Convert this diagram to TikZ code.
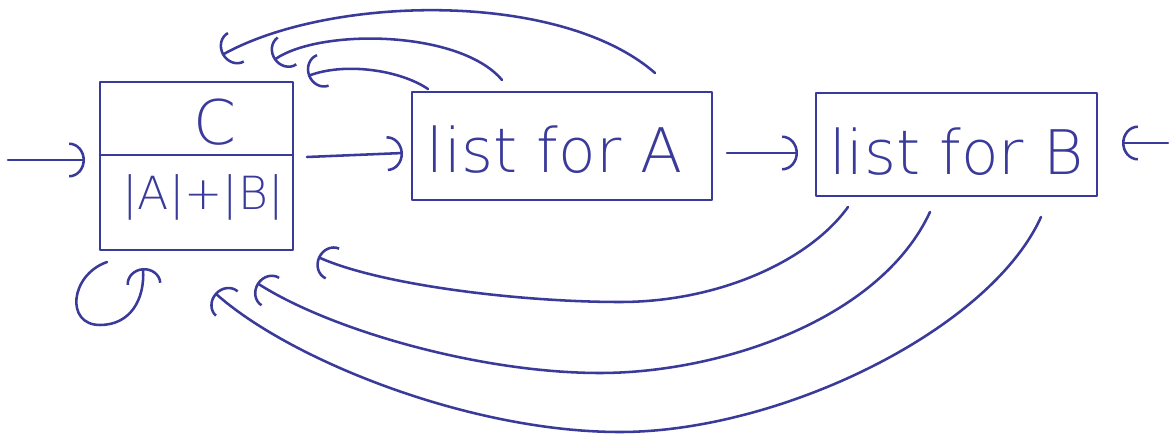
\documentclass[tikz,border=0pt]{standalone}
\usepackage{fontspec}
\newfontfamily\hand{DejaVu Sans ExtraLight}
\usetikzlibrary{arrows.meta}
\definecolor{ink}{RGB}{58,58,155}
\begin{document}
\begin{tikzpicture}[x=0.02cm,y=-0.02cm, line width=1.45pt, line cap=round, line join=round, draw=ink,
  box/.style={draw=ink, rectangle, inner sep=0pt},
  lbl/.style={font=\hand\fontsize{35}{40}\selectfont, text=ink, inner sep=0pt},
  small/.style={font=\hand\fontsize{26}{30}\selectfont, text=ink, inner sep=0pt},
  arr/.style={-{Arc Barb[length=9pt,width=20pt]}},
]
\useasboundingbox (0,0) rectangle (1171,439);
% boxes
\node[box, minimum width=3.86cm, minimum height=3.36cm] (cbox) at (196.5,166) {};
\node[box, minimum width=6cm, minimum height=2.16cm] (boxA) at (562,146) {};
\node[box, minimum width=5.62cm, minimum height=2.06cm] (boxB) at (956.5,144.5) {};
\coordinate (divL) at (100,155);
\coordinate (divR) at (293,155);
\draw (divL) -- (divR);
% texts
\node[lbl] (ctext) at (215,122) {C};
\node[small] (ab) at (203,197) {|A|+|B|};
\node[lbl] (atext) at (555,150) {list for A};
\node[lbl] (btext) at (957,152) {list for B};
% straight arrows
\coordinate (inL) at (8,160);
\coordinate (inLe) at (85,160);
\draw[arr] (inL) -- (inLe);
\coordinate (ca1) at (307,157);
\coordinate (ca2) at (403,153);
\draw[arr] (ca1) -- (ca2);
\coordinate (ab1) at (727,153);
\coordinate (ab2) at (798,153);
\draw[arr] (ab1) -- (ab2);
\coordinate (inR) at (1168,143);
\coordinate (inRe) at (1122,143);
\draw[arr] (inR) -- (inRe);
% top arcs from list for A
\coordinate (t1s) at (655,73);
\coordinate (t1e) at (222,55);
\draw[arr] (t1s) .. controls (560,-10) and (330,-5) .. (t1e);
\coordinate (t2s) at (502,80);
\coordinate (t2e) at (274,60);
\draw[arr] (t2s) .. controls (460,30) and (320,28) .. (t2e);
\coordinate (t3s) at (428,89);
\coordinate (t3e) at (308,76);
\draw[arr] (t3s) .. controls (400,70) and (345,62) .. (t3e);
% bottom arcs from list for B
\coordinate (b1s) at (848,207);
\coordinate (b1m) at (620,302);
\coordinate (b1e) at (318,257);
\draw[arr] (b1s) .. controls (810,260) and (720,302) .. (b1m) .. controls (520,302) and (380,285) .. (b1e);
\coordinate (b2s) at (930,212);
\coordinate (b2m) at (600,373);
\coordinate (b2e) at (257,283);
\draw[arr] (b2s) .. controls (880,320) and (720,373) .. (b2m) .. controls (480,373) and (330,330) .. (b2e);
\coordinate (b3s) at (1041,217);
\coordinate (b3m) at (620,432);
\coordinate (b3e) at (215,293);
\draw[arr] (b3s) .. controls (990,330) and (780,432) .. (b3m) .. controls (470,432) and (290,360) .. (b3e);
% self loop
\coordinate (ls) at (107,262);
\coordinate (lb) at (100,325);
\coordinate (le) at (143,268);
\draw[arr] (ls) .. controls (70,275) and (65,325) .. (lb) .. controls (130,325) and (145,300) .. (le);
\end{tikzpicture}
\end{document}
